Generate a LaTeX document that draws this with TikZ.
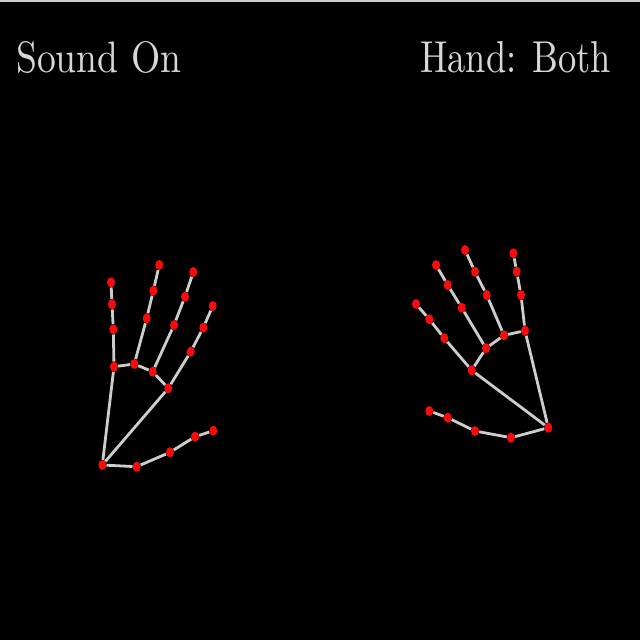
\documentclass[tikz,border=0pt]{standalone}
\usetikzlibrary{shapes.geometric}
\definecolor{bone}{RGB}{205,205,205}
\definecolor{txt}{RGB}{215,215,215}
\definecolor{jred}{RGB}{250,10,10}
\begin{document}
\begin{tikzpicture}[x=1pt,y=-1pt,
  joint/.style={ellipse,fill=jred,draw=none,inner sep=0pt,minimum width=8pt,minimum height=10pt},
  bonel/.style={draw=bone,line width=2.8pt},
  label/.style={anchor=base west,inner sep=0pt,text=txt}]
\fill[black] (0,0) rectangle (640,640);
\useasboundingbox (0,0) rectangle (640,640);
\fill[bone] (0,0) rectangle (640,2);
\node[label] (snd) at (16,72) {\resizebox{165pt}{31pt}{Sound On}};
\node[label] (hnd) at (420,72) {\resizebox{191pt}{31pt}{Hand: Both}};
% left hand
\foreach \n/\x/\y in {0/102.3/465, 1/136.7/466.7, 2/170/452.3, 3/195/436.7, 4/213.3/430.7,
  5/168.3/388.3, 6/190.7/351.7, 7/203.3/327.7, 8/212.7/306,
  9/152.7/371.7, 10/174/325, 11/185/296.7, 12/193.3/272,
  13/134.3/364, 14/146.7/318.3, 15/153.3/290.7, 16/159.3/265,
  17/114/366.7, 18/113.3/329.3, 19/112/304.3, 20/111/282.3}
  \node[joint] (L\n) at (\x,\y) {};
% right hand
\foreach \n/\x/\y in {0/548.3/427.7, 1/511/437.7, 2/475/431, 3/447.7/417.7, 4/429.3/411,
  5/471.7/370.3, 6/444.3/338.3, 7/429.3/319.3, 8/416/304,
  9/486/348.3, 10/461.7/307.7, 11/447.7/285, 12/436/265,
  13/504/335.3, 14/486.7/295, 15/475/271.7, 16/465/250,
  17/525/330.7, 18/521/295, 19/516.7/271.7, 20/513.3/253.3}
  \node[joint] (R\n) at (\x,\y) {};
\foreach \h in {L,R}{
  \foreach \a/\b in {0/1,1/2,2/3,3/4,0/5,5/6,6/7,7/8,5/9,9/10,10/11,11/12,
    9/13,13/14,14/15,15/16,13/17,17/18,18/19,19/20,0/17}
    \draw[bonel] (\h\a) -- (\h\b);
}
\end{tikzpicture}
\end{document}
